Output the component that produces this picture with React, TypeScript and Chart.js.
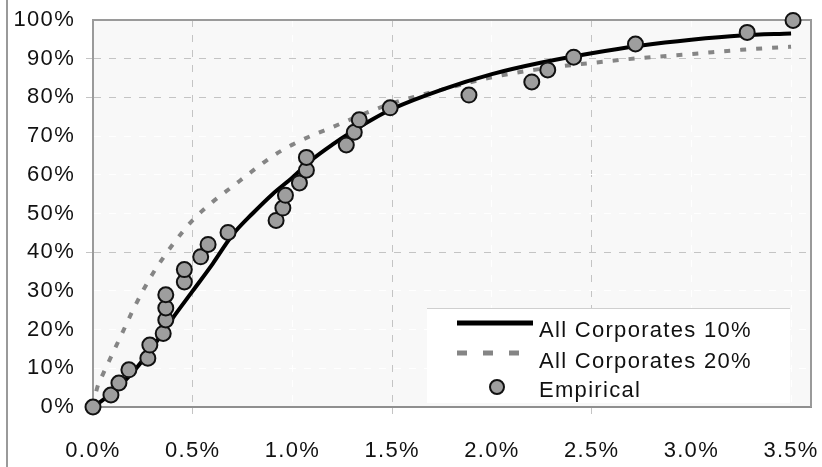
import React, { useEffect, useRef } from "react";
import { Chart, registerables } from "chart.js";

Chart.register(...registerables);

// ---- data (percent units) ----
const xTickValues = [0, 0.5, 1, 1.5, 2, 2.5, 3, 3.5];
const xTickLabels = ["0.0%", "0.5%", "1.0%", "1.5%", "2.0%", "2.5%", "3.0%", "3.5%"];
const yTickValues = [0, 10, 20, 30, 40, 50, 60, 70, 80, 90, 100];
const yTickLabels = ["0%", "10%", "20%", "30%", "40%", "50%", "60%", "70%", "80%", "90%", "100%"];

const seriesNames = ["All Corporates 10%", "All Corporates 20%", "Empirical"];

const empiricalX = [0.0, 0.09, 0.13, 0.18, 0.275, 0.285, 0.352, 0.365, 0.365, 0.365, 0.458, 0.458, 0.54, 0.577, 0.677, 0.918, 0.952, 0.965, 1.035, 1.07, 1.07, 1.27, 1.31, 1.335, 1.49, 1.885, 2.2, 2.28, 2.41, 2.72, 3.28, 3.51];
const empiricalY = [0, 3.1, 6.2, 9.6, 12.6, 16.0, 19.0, 22.5, 25.6, 29.0, 32.3, 35.5, 38.8, 42.0, 45.1, 48.2, 51.4, 54.7, 57.9, 61.2, 64.5, 67.7, 71.0, 74.2, 77.3, 80.6, 84.0, 87.1, 90.4, 93.8, 96.8, 99.9];

const corp10X = [0, 0.1, 0.2, 0.3, 0.4, 0.5, 0.6, 0.7, 0.8, 0.9, 1.0, 1.1, 1.2, 1.3, 1.4, 1.5, 1.75, 2.0, 2.25, 2.5, 2.75, 3.0, 3.25, 3.5];
const corp10Y = [0, 3.8, 9.0, 15.5, 23.0, 30.0, 37.0, 44.5, 50.0, 55.0, 59.3, 64.0, 67.8, 71.2, 74.3, 77.0, 82.0, 86.0, 89.0, 91.4, 93.4, 94.9, 96.0, 96.5];

const corp20X = [0, 0.02, 0.05, 0.1, 0.15, 0.2, 0.25, 0.3, 0.4, 0.5, 0.6, 0.7, 0.8, 0.9, 1.0, 1.1, 1.2, 1.3, 1.4, 1.5, 1.75, 2.0, 2.25, 2.5, 2.75, 3.0, 3.25, 3.5];
const corp20Y = [0, 4.8, 8.5, 14.0, 19.5, 25.0, 30.0, 34.5, 42.0, 48.3, 53.0, 57.0, 61.0, 64.8, 67.8, 70.2, 72.3, 74.5, 76.6, 78.5, 82.0, 85.2, 87.4, 88.9, 90.2, 91.2, 92.3, 93.1];

const FONT_FAMILY = '"Liberation Sans", Arial, sans-serif';
const FONT_SIZE = 22;

const grayXGrid = [0.5, 1.5, 2.5];
const grayYGrid = [40, 80, 90];

export default function App() {
  const ref = useRef<HTMLCanvasElement>(null);

  useEffect(() => {
    const canvas = ref.current;
    if (!canvas) return;
    const pts = (xs: number[], ys: number[]) => xs.map((x, i) => ({ x, y: ys[i] }));

    const pagePlugin = {
      id: "pagePlugin",
      beforeDraw(chart: any) {
        const { ctx, chartArea: a } = chart;
        ctx.save();
        ctx.fillStyle = "#ffffff";
        ctx.fillRect(0, 0, chart.width, chart.height);
        ctx.fillStyle = "#f8f8f8";
        ctx.fillRect(a.left, a.top, a.right - a.left, a.bottom - a.top);
        ctx.strokeStyle = "#9a9a9a";
        ctx.lineWidth = 2;
        ctx.beginPath();
        ctx.moveTo(7, 0);
        ctx.lineTo(7, chart.height);
        ctx.stroke();
        ctx.restore();
        (ctx as any).letterSpacing = "1.3px";
      },
      beforeDatasetsDraw(chart: any) {
        const { ctx, chartArea: a } = chart;
        ctx.save();
        ctx.strokeStyle = "#9a9a9a";
        ctx.lineWidth = 2;
        ctx.beginPath();
        ctx.moveTo(a.left, a.top);
        ctx.lineTo(a.right, a.top);
        ctx.lineTo(a.right, a.bottom);
        ctx.stroke();
        ctx.restore();
      },
      afterDatasetsDraw(chart: any) {
        const { ctx, chartArea: a } = chart;
        const ds = chart.data.datasets;
        const left = a.right - 384;
        const right = a.right - 21;
        const top = a.bottom - 99;
        const bottom = a.bottom - 4;
        ctx.save();
        ctx.fillStyle = "#ffffff";
        ctx.fillRect(left, top, right - left, bottom - top);
        ctx.strokeStyle = "#cfcfcf";
        ctx.lineWidth = 1;
        ctx.beginPath();
        ctx.moveTo(left, top + 0.5);
        ctx.lineTo(right, top + 0.5);
        ctx.stroke();

        const sx1 = left + 30;
        const sx2 = left + 106;
        const tx = left + 112;
        // solid line sample
        ctx.strokeStyle = ds[1].borderColor;
        ctx.lineWidth = 5;
        ctx.setLineDash([]);
        ctx.beginPath();
        ctx.moveTo(sx1, top + 15);
        ctx.lineTo(sx2, top + 15);
        ctx.stroke();
        // dashed sample
        ctx.strokeStyle = ds[2].borderColor;
        ctx.lineWidth = 5;
        ctx.setLineDash([10, 16]);
        ctx.beginPath();
        ctx.moveTo(sx1, top + 45);
        ctx.lineTo(sx2, top + 45);
        ctx.stroke();
        ctx.setLineDash([]);
        // marker sample
        ctx.fillStyle = ds[0].backgroundColor;
        ctx.strokeStyle = ds[0].borderColor;
        ctx.lineWidth = 2;
        ctx.beginPath();
        ctx.arc(left + 70, top + 79, 7, 0, Math.PI * 2);
        ctx.fill();
        ctx.stroke();

        ctx.fillStyle = "#111111";
        ctx.font = `${FONT_SIZE}px ${FONT_FAMILY}`;
        ctx.textAlign = "left";
        ctx.textBaseline = "alphabetic";
        ctx.fillText(seriesNames[0], tx, top + 29);
        ctx.fillText(seriesNames[1], tx, top + 59.5);
        ctx.fillText(seriesNames[2], tx, top + 88.5);
        ctx.restore();
      },
    };

    const gridColor = (grayList: number[]) => (c: any) => {
      const v = c.tick ? c.tick.value : null;
      if (v === null) return "#ffffff";
      return grayList.some((g) => Math.abs(g - v) < 1e-6) ? "#c4c4c4" : "#ffffff";
    };

    const chart = new Chart(canvas, {
      type: "scatter",
      data: {
        datasets: [
          {
            label: seriesNames[2],
            data: pts(empiricalX, empiricalY),
            showLine: false,
            pointRadius: 7.5,
            pointBorderWidth: 2,
            backgroundColor: "#9e9e9e",
            borderColor: "#111111",
            pointBackgroundColor: "#9e9e9e",
            pointBorderColor: "#111111",
            clip: false,
          } as any,
          {
            label: seriesNames[0],
            data: pts(corp10X, corp10Y),
            showLine: true,
            borderColor: "#000000",
            borderWidth: 4,
            pointRadius: 0,
            cubicInterpolationMode: "monotone",
          },
          {
            label: seriesNames[1],
            data: pts(corp20X, corp20Y),
            showLine: true,
            borderColor: "#858585",
            borderWidth: 4,
            borderDash: [6, 10],
            pointRadius: 0,
            cubicInterpolationMode: "monotone",
          },
        ],
      },
      options: {
        responsive: false,
        animation: false,
        devicePixelRatio: 1,
        layout: { padding: { top: 20, right: 11, left: 0, bottom: 0 } },
        plugins: { legend: { display: false }, tooltip: { enabled: false } },
        scales: {
          x: {
            type: "linear",
            min: 0,
            max: 3.6,
            afterBuildTicks: (s: any) => {
              s.ticks = xTickValues.map((v) => ({ value: v }));
            },
            afterFit: (s: any) => {
              s.height = 60;
              s.paddingLeft = 0;
              s.paddingRight = 0;
            },
            ticks: {
              callback: (_v: any, i: number) => xTickLabels[i],
              font: { family: FONT_FAMILY, size: FONT_SIZE },
              color: "#111111",
              padding: 24,
              maxRotation: 0,
              autoSkip: false,
            },
            grid: { color: gridColor(grayXGrid), lineWidth: 1, tickLength: 7, drawTicks: true },
            border: { display: true, color: "#8f8f8f", width: 2, dash: [7, 8] },
          },
          y: {
            type: "linear",
            min: 0,
            max: 100,
            afterBuildTicks: (s: any) => {
              s.ticks = yTickValues.map((v) => ({ value: v }));
            },
            afterFit: (s: any) => {
              s.width = 93;
              s.paddingTop = 0;
              s.paddingBottom = 0;
            },
            ticks: {
              callback: (_v: any, i: number) => yTickLabels[i],
              font: { family: FONT_FAMILY, size: FONT_SIZE },
              color: "#111111",
              padding: 11,
              autoSkip: false,
            },
            grid: { color: gridColor(grayYGrid), lineWidth: 1, tickLength: 7, drawTicks: true },
            border: { display: true, color: "#9a9a9a", width: 2, dash: [7, 8] },
          },
        },
      },
      plugins: [pagePlugin],
    } as any);

    return () => chart.destroy();
  }, []);

  return (
    <div style={{ position: "fixed", left: 0, top: 0, width: 822, height: 467, background: "#fff" }}>
      <canvas ref={ref} width={822} height={467} style={{ display: "block", width: 822, height: 467 }} />
    </div>
  );
}
